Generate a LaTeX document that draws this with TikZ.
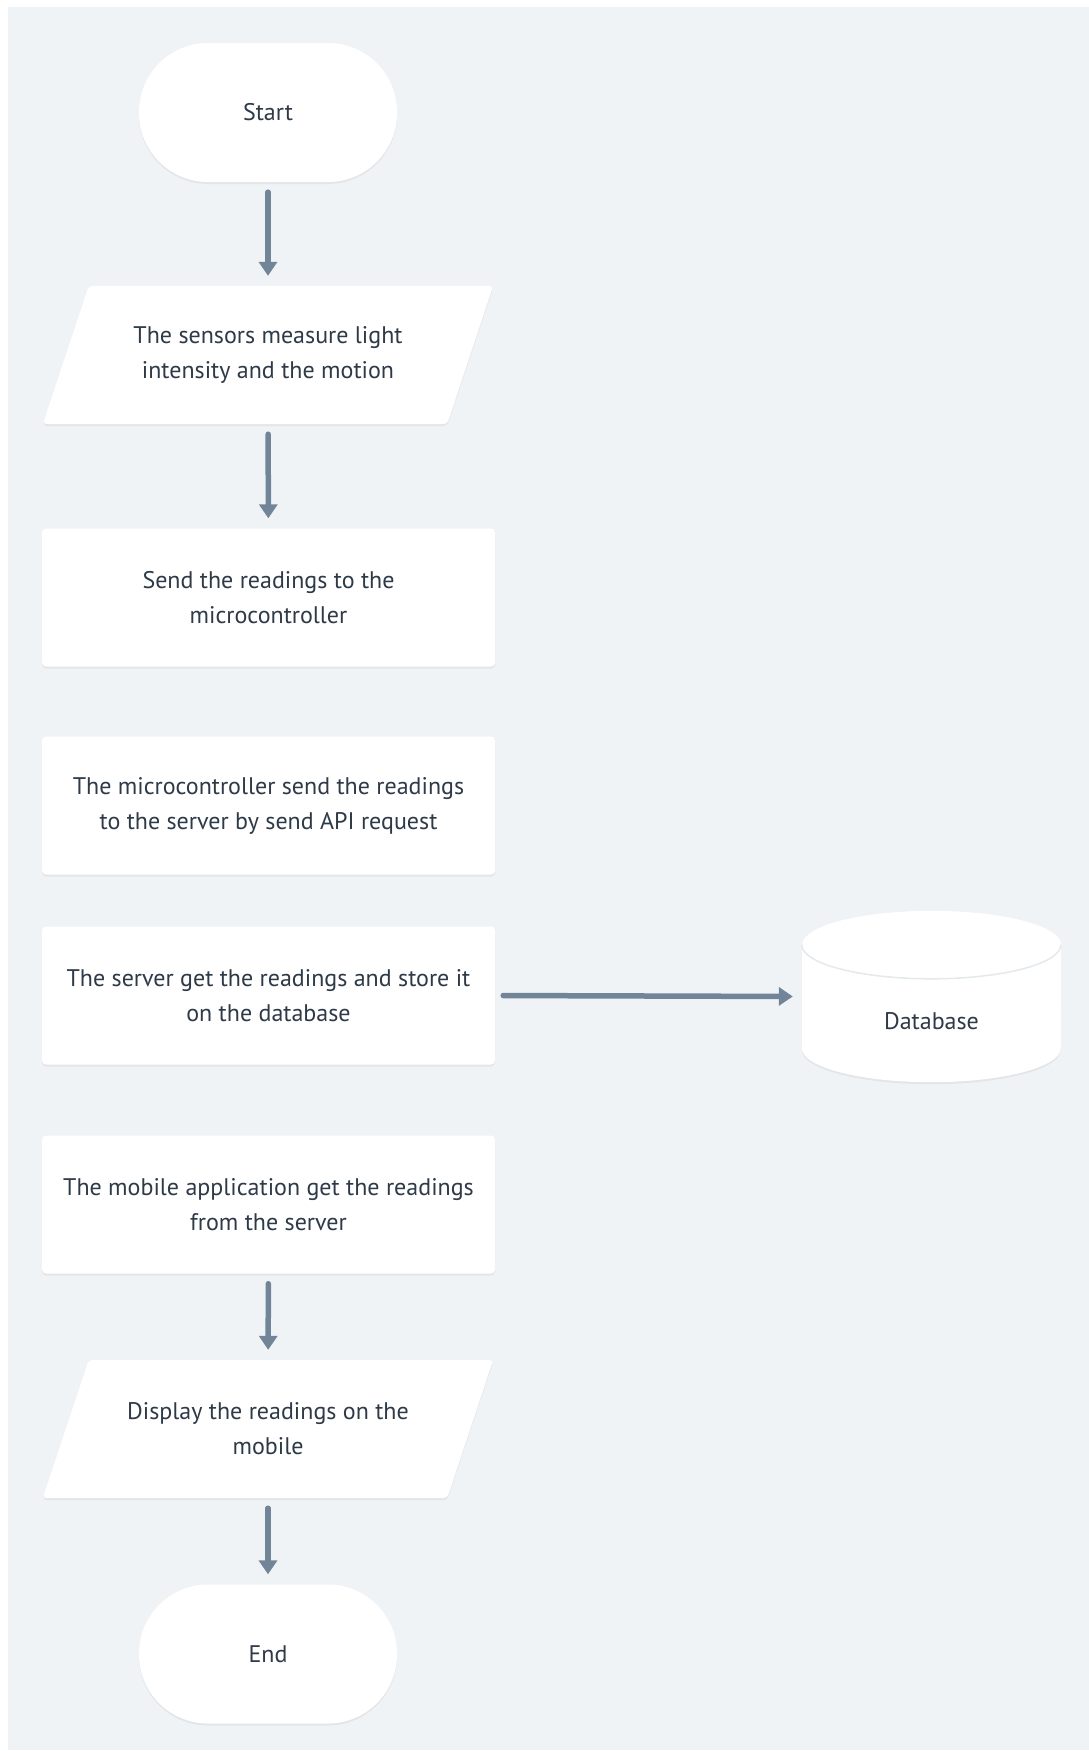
\documentclass[tikz,border=0pt]{standalone}
\usepackage{fontspec}
\setmainfont{PT Sans}
\usetikzlibrary{arrows.meta,shadows,calc}
\definecolor{canvas}{HTML}{EFF3F6}
\definecolor{ink}{HTML}{2E3A48}
\definecolor{flow}{HTML}{728497}
\definecolor{rim}{HTML}{E4E9EE}
\pgfdeclarelayer{paper}
\pgfdeclarelayer{shapes}
\pgfsetlayers{paper,shapes,main}
\begin{document}
\begin{tikzpicture}[x=1pt,y=1pt,
  soft shadow/.style={drop shadow={shadow xshift=0pt, shadow yshift=-2pt, opacity=0.05, fill=black}},
  basebox/.style={inner sep=0pt, align=center, text=ink, font=\fontsize{24}{35}\selectfont},
  terminal/.style={basebox, fill=white, rounded corners=69pt, minimum width=258pt, minimum height=139pt, soft shadow},
  stepbox/.style={basebox, fill=white, rounded corners=4pt, minimum width=453pt, minimum height=138pt, soft shadow},
  iobox/.style={basebox, minimum width=450pt, minimum height=138pt},
  flowarrow/.style={draw=flow, line width=5.5pt, line cap=round, -{Triangle[width=18pt,length=14pt]}, shorten <=10pt, shorten >=10pt}
]
\useasboundingbox (0,0) rectangle (1089,-1751);
\begin{pgfonlayer}{paper}
  \fill[white] (0,0) rectangle (1089,-1751);
  \fill[canvas] (8,-7) rectangle (1089,-1750);
\end{pgfonlayer}

% flow steps
\node[terminal] (start) at (268,-112.5) {Start};
\node[iobox] (sense) at (268,-355) {The sensors measure light\\intensity and the motion};
\node[stepbox] (send) at (268.5,-597.5) {Send the readings to the\\microcontroller};
\node[stepbox] (api) at (268.5,-805.5) {The microcontroller send the readings\\to the server by send API request};
\node[stepbox] (server) at (268.5,-995.5) {The server get the readings and store it\\on the database};
\node[stepbox] (mobile) at (268.5,-1204.5) {The mobile application get the readings\\from the server};
\node[iobox] (show) at (268,-1429) {Display the readings on the\\mobile};
\node[terminal] (finish) at (268,-1654) {End};

% database cylinder
\node[basebox, minimum width=259pt, minimum height=171pt] (db) at (931.5,-996.5) {};
\node[basebox] (dblabel) at ($(db.center)+(0,-25)$) {Database};

\begin{pgfonlayer}{shapes}
  \foreach \io in {sense,show}{
    \fill[white, rounded corners=4pt, soft shadow]
      ($(\io.north west)+(46,0)$) -- (\io.north east) --
      ($(\io.south east)+(-46,0)$) -- (\io.south west) -- cycle;
  }
  \fill[white, soft shadow]
    ($(db.north west)+(0,-34)$) -- ($(db.south west)+(0,34)$)
    arc[start angle=180, end angle=360, x radius=129.5, y radius=34]
    -- ($(db.north east)+(0,-34)$)
    arc[start angle=0, end angle=180, x radius=129.5, y radius=34] -- cycle;
  \draw[rim, line width=1.5pt] ($(db.north west)+(0,-34)$)
    arc[start angle=180, end angle=360, x radius=129.5, y radius=34];
\end{pgfonlayer}

% connectors
\draw[flowarrow] (start) -- (sense);
\draw[flowarrow] (sense) -- (send);
\draw[flowarrow, shorten <=8pt, shorten >=9pt] (server.east) -- (db.west);
\draw[flowarrow] (mobile) -- (show);
\draw[flowarrow] (show) -- (finish);
\end{tikzpicture}
\end{document}
